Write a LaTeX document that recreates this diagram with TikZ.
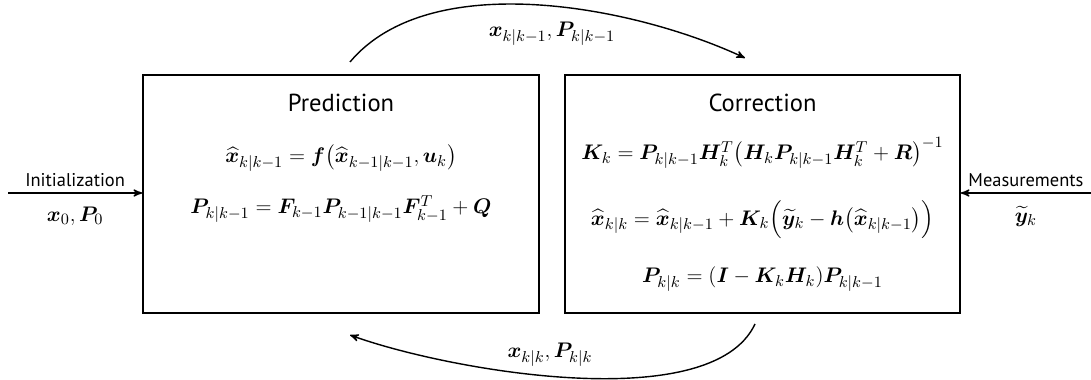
\documentclass[tikz,border=0pt]{standalone}
\usepackage{amsmath}
\usepackage{bm}
\usepackage{fontspec}
\setmainfont{PT Sans}
\usetikzlibrary{arrows,positioning}
\tikzset{
  stagebox/.style={rectangle,draw,line width=0.9pt,minimum width=7.92cm,minimum height=4.76cm},
  stagetitle/.style={font=\fontsize{14}{16}\selectfont},
  eqline/.style={font=\fontsize{13}{15}\selectfont},
  sidelabel/.style={font=\fontsize{10.5}{12}\selectfont}
}
\begin{document}
\begin{tikzpicture}[>=stealth',line width=0.8pt]
        \useasboundingbox (0,0) rectangle (21.82,7.6);
        % the two stages of the filter
        \node[stagebox] (pred) at (6.82,3.72) {};
        \node[stagebox,minimum width=7.9cm] (corr) at (15.25,3.72) {};
        \node[stagetitle] (predtitle) at (6.82,5.54) {Prediction};
        \node[stagetitle] (corrtitle) at (15.25,5.54) {Correction};
        \node[eqline] (predeqx) at (6.82,4.44)
          {$\widehat{\bm{x}}_{k|k-1} = \bm{f}\big(\widehat{\bm{x}}_{k-1|k-1},\bm{u}_k\big)$};
        \node[eqline] (predeqp) at (6.82,3.42)
          {$\bm{P}_{k|k-1} = \bm{F}_{k-1}\bm{P}_{k-1|k-1}\bm{F}^T_{k-1} + \bm{Q}$};
        \node[eqline] (correqk) at (15.25,4.54)
          {$\bm{K}_k = \bm{P}_{k|k-1}\bm{H}^T_k\big(\bm{H}_k\bm{P}_{k|k-1}\bm{H}^T_k + \bm{R}\big)^{-1}$};
        \node[eqline] (correqx) at (15.25,3.2)
          {$\widehat{\bm{x}}_{k|k} = \widehat{\bm{x}}_{k|k-1} + \bm{K}_k\Big(\widetilde{\bm{y}}_k - \bm{h}\big(\widehat{\bm{x}}_{k|k-1}\big)\Big)$};
        \node[eqline] (correqp) at (15.25,2.02)
          {$\bm{P}_{k|k} = (\bm{I} - \bm{K}_k\bm{H}_k)\bm{P}_{k|k-1}$};
        % free ends of the connectors
        \coordinate (init) at (0.16,3.74);
        \coordinate (meas) at (21.82,3.74);
        \coordinate (predtop) at (7.0,6.36);
        \coordinate (corrtop) at (14.9,6.44);
        \coordinate (corrbot) at (15.1,1.12);
        \coordinate (predbot) at (7.0,0.9);
        \path[->]
          (init) edge node[sidelabel,above] (initlbl) {Initialization}
                      node[eqline,below=4pt] (initval) {$\bm{x}_0,\bm{P}_0$} (init -| pred.west)
          (meas) edge node[sidelabel,above] (measlbl) {Measurements}
                      node[eqline,below=4pt] (measval) {$\widetilde{\bm{y}}_k$} (meas -| corr.east)
          (predtop) edge[out=50,in=155,looseness=0.8] (corrtop)
          (corrbot) edge[out=-115,in=-20,looseness=0.65] (predbot);
        \node[eqline] (priorlbl) at (11.04,6.92) {$\bm{x}_{k|k-1},\bm{P}_{k|k-1}$};
        \node[eqline] (postlbl) at (11.0,0.5) {$\bm{x}_{k|k},\bm{P}_{k|k}$};
      \end{tikzpicture}
\end{document}
